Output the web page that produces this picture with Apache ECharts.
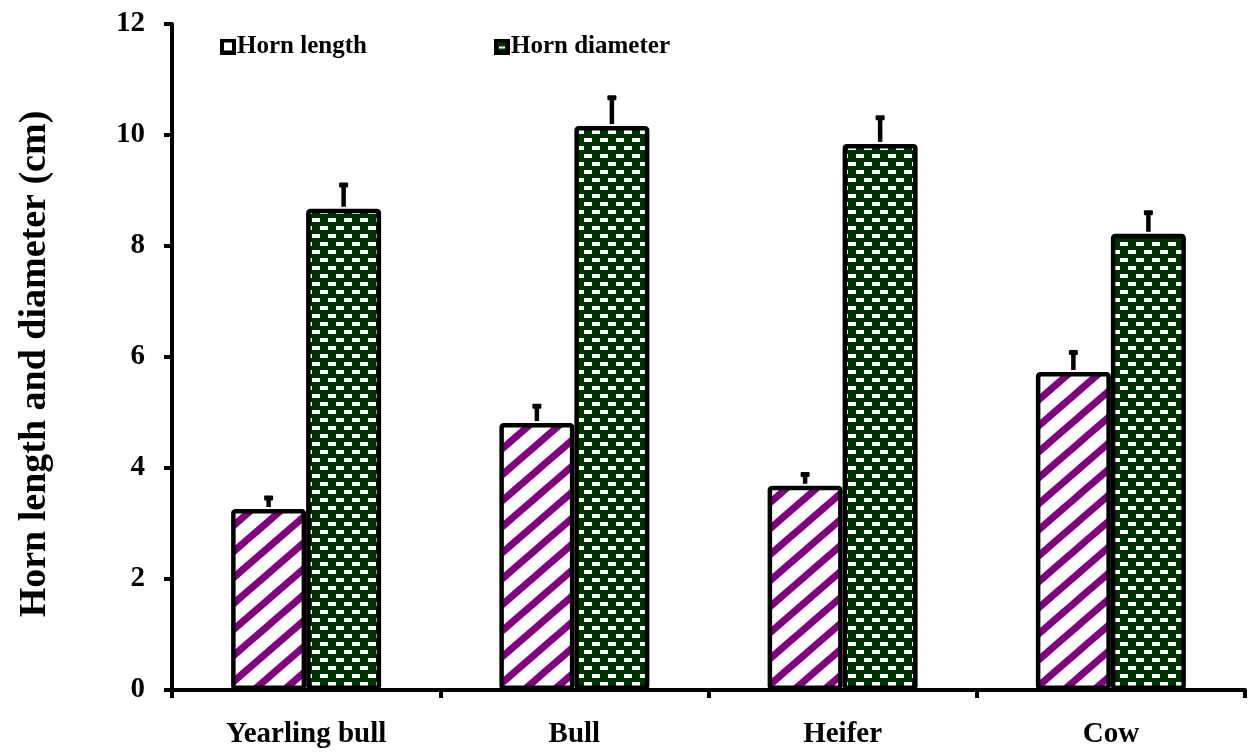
<!DOCTYPE html>
<html>
<head>
<meta charset="utf-8">
<style>
  html, body { margin: 0; padding: 0; background: #fff; }
  #chart { width: 1250px; height: 753px; }
</style>
<script src="https://cdn.jsdelivr.net/npm/echarts@6/dist/echarts.min.js"></script>
</head>
<body>
<div id="chart"></div>
<script>
// Horn measurements by animal class (cm)
const categories = ['Yearling bull', 'Bull', 'Heifer', 'Cow'];
const hornLength = [3.26, 4.81, 3.68, 5.73];
const hornLengthErr = [0.21, 0.31, 0.21, 0.36];
const hornDiameter = [8.67, 10.16, 9.84, 8.22];
const hornDiameterErr = [0.44, 0.52, 0.48, 0.39];
const yTicks = { min: 0, max: 12, interval: 2 };

const FONT = '"Liberation Serif", "Times New Roman", serif';
const BAR_W = 75;

// Purple diagonal hatching on white
function stripePattern() {
  const W = 30, H = 26;
  const c = document.createElement('canvas');
  c.width = W; c.height = H;
  const g = c.getContext('2d');
  g.fillStyle = '#fff';
  g.fillRect(0, 0, W, H);
  g.strokeStyle = '#800080';
  g.lineWidth = 7;
  for (let k = -2; k <= 2; k++) {
    g.beginPath();
    g.moveTo(k * W - W, 2 * H);
    g.lineTo(k * W + 2 * W, -H);
    g.stroke();
  }
  return c;
}

// Dark green fill with staggered white dashes
function brickPattern() {
  const c = document.createElement('canvas');
  c.width = 16; c.height = 16;
  const g = c.getContext('2d');
  g.fillStyle = '#003300';
  g.fillRect(0, 0, 16, 16);
  g.fillStyle = '#fff';
  g.fillRect(0, 2, 8, 4);
  g.fillRect(8, 10, 8, 4);
  return c;
}

// Small square legend icons
function legendIcon(fill, dash) {
  const s = 16;
  const c = document.createElement('canvas');
  c.width = s; c.height = s;
  const g = c.getContext('2d');
  g.fillStyle = '#000';
  g.fillRect(0, 0, s, s);
  g.fillStyle = fill;
  g.fillRect(4, 4, s - 8, s - 8);
  if (dash) {
    g.fillStyle = '#fff';
    g.fillRect(5, 8, 6, 2);
  }
  return 'image://' + c.toDataURL();
}

function errorSeries(name, values, errs, side) {
  return {
    name: name,
    type: 'custom',
    z: 5,
    data: values.map((v, i) => [i, v, errs[i]]),
    encode: { x: 0, y: 1 },
    renderItem: function (params, api) {
      const i = api.value(0);
      const v = api.value(1);
      const e = api.value(2);
      const base = api.coord([i, v]);
      const top = api.coord([i, v + e]);
      const x = base[0] + side * BAR_W / 2;
      return {
        type: 'group',
        children: [
          { type: 'line', shape: { x1: x, y1: base[1] - 2, x2: x, y2: top[1] },
            style: { stroke: '#000', lineWidth: 4.5 } },
          { type: 'rect', shape: { x: x - 4.5, y: top[1] - 2, width: 9, height: 5, r: 1 },
            style: { fill: '#000' } }
        ]
      };
    },
    silent: true
  };
}

const legendText = { fontFamily: FONT, fontWeight: 'bold', fontSize: 25, color: '#000', padding: [0, 0, 0, -4] };

const chart = echarts.init(document.getElementById('chart'), null, { renderer: 'canvas' });

chart.setOption({
  animation: false,
  backgroundColor: '#fff',
  textStyle: { fontFamily: FONT },
  legend: [
    { data: [{ name: 'Horn length', icon: legendIcon('#fff', false) }],
      left: 220, top: 34, padding: 0, itemWidth: 16, itemHeight: 16, selectedMode: false,
      textStyle: legendText },
    { data: [{ name: 'Horn diameter', icon: legendIcon('#003300', true) }],
      left: 494, top: 34, padding: 0, itemWidth: 16, itemHeight: 16, selectedMode: false,
      textStyle: legendText }
  ],
  grid: { left: 172, right: 5, top: 24, bottom: 63, containLabel: false },
  xAxis: {
    type: 'category',
    data: categories,
    axisLine: { lineStyle: { color: '#000', width: 4 } },
    axisTick: { show: true, length: 8, lineStyle: { color: '#000', width: 4 } },
    axisLabel: { color: '#000', fontFamily: FONT, fontWeight: 'bold', fontSize: 29, margin: 30 }
  },
  yAxis: {
    type: 'value',
    min: yTicks.min, max: yTicks.max, interval: yTicks.interval,
    name: 'Horn length and diameter (cm)',
    nameLocation: 'middle',
    nameGap: 118,
    nameTextStyle: { color: '#000', fontFamily: FONT, fontWeight: 'bold', fontSize: 38, padding: [0, 14, 0, 0] },
    axisLine: { show: true, lineStyle: { color: '#000', width: 4 } },
    axisTick: { show: true, length: 8, lineStyle: { color: '#000', width: 4 } },
    axisLabel: { color: '#000', fontFamily: FONT, fontWeight: 'bold', fontSize: 29, margin: 27 },
    splitLine: { show: false }
  },
  series: [
    {
      name: 'Horn length', type: 'bar', data: hornLength,
      barWidth: BAR_W, barGap: '0%',
      itemStyle: { color: { image: stripePattern(), repeat: 'repeat' }, borderColor: '#000', borderWidth: 4.5, borderRadius: 2 }
    },
    {
      name: 'Horn diameter', type: 'bar', data: hornDiameter,
      barWidth: BAR_W, barGap: '0%',
      itemStyle: { color: { image: brickPattern(), repeat: 'repeat' }, borderColor: '#000', borderWidth: 4.5, borderRadius: 2 }
    },
    errorSeries('Horn length error', hornLength, hornLengthErr, -1),
    errorSeries('Horn diameter error', hornDiameter, hornDiameterErr, 1)
  ]
});
</script>
</body>
</html>
